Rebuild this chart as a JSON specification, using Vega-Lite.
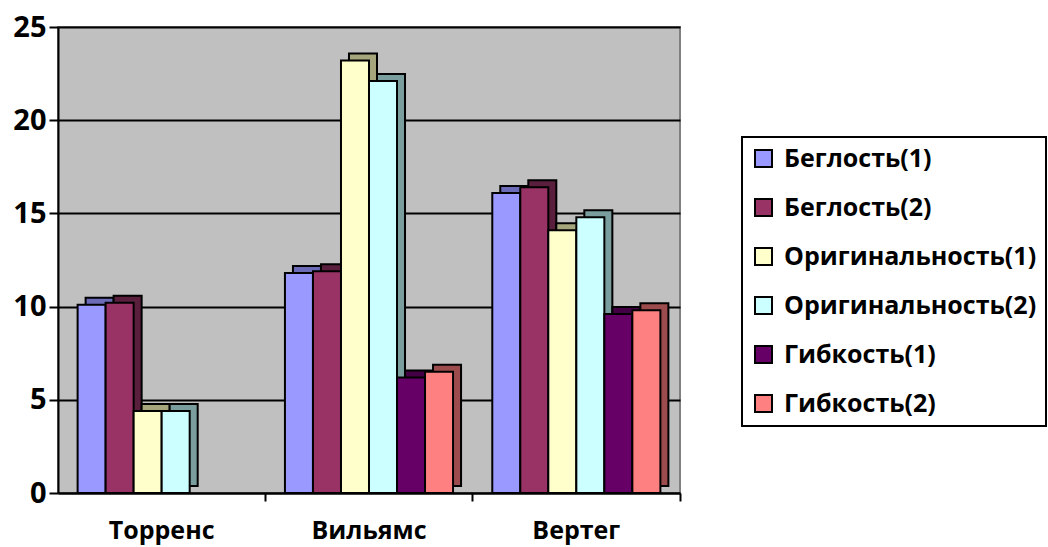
{
  "$schema": "https://vega.github.io/schema/vega-lite/v6.json",
  "width": 622,
  "height": 466,
  "autosize": "none",
  "padding": {"left": 58, "top": 27, "right": 368, "bottom": 54},
  "background": "white",
  "config": {
    "font": "Open Sans",
    "view": {"fill": "#C0C0C0", "stroke": "#808080", "strokeWidth": 2},
    "legend": {
      "orient": "none",
      "legendX": 684,
      "legendY": 110,
      "fillColor": "white",
      "strokeColor": "black",
      "strokeWidth": 2,
      "padding": 9,
      "symbolType": "square",
      "symbolSize": 289,
      "symbolStrokeColor": "black",
      "symbolStrokeWidth": 2,
      "symbolOpacity": 1,
      "labelFont": "Open Sans",
      "labelFontSize": 25,
      "labelFontWeight": "bold",
      "labelColor": "black",
      "labelOffset": 8,
      "labelLimit": 400,
      "rowPadding": 23
    }
  },
  "data": {
    "values": [
      {"group": "Торренс", "series": "Беглость(1)", "value": 10.1},
      {"group": "Торренс", "series": "Беглость(2)", "value": 10.2},
      {"group": "Торренс", "series": "Оригинальность(1)", "value": 4.4},
      {"group": "Торренс", "series": "Оригинальность(2)", "value": 4.4},
      {"group": "Вильямс", "series": "Беглость(1)", "value": 11.8},
      {"group": "Вильямс", "series": "Беглость(2)", "value": 11.9},
      {"group": "Вильямс", "series": "Оригинальность(1)", "value": 23.2},
      {"group": "Вильямс", "series": "Оригинальность(2)", "value": 22.1},
      {"group": "Вильямс", "series": "Гибкость(1)", "value": 6.2},
      {"group": "Вильямс", "series": "Гибкость(2)", "value": 6.5},
      {"group": "Вертег", "series": "Беглость(1)", "value": 16.1},
      {"group": "Вертег", "series": "Беглость(2)", "value": 16.4},
      {"group": "Вертег", "series": "Оригинальность(1)", "value": 14.1},
      {"group": "Вертег", "series": "Оригинальность(2)", "value": 14.8},
      {"group": "Вертег", "series": "Гибкость(1)", "value": 9.6},
      {"group": "Вертег", "series": "Гибкость(2)", "value": 9.8}
    ]
  },
  "encoding": {
    "x": {
      "field": "group",
      "type": "nominal",
      "sort": ["Торренс", "Вильямс", "Вертег"],
      "scale": {"paddingInner": 0, "paddingOuter": 0},
      "axis": {
        "title": null,
        "labelAngle": 0,
        "labelFont": "Open Sans",
        "labelFontSize": 25,
        "labelFontWeight": "bold",
        "labelColor": "black",
        "labelPadding": 17,
        "bandPosition": 1,
        "domainColor": "black",
        "domainWidth": 2,
        "tickColor": "black",
        "tickWidth": 2,
        "tickSize": 8,
        "grid": false
      }
    },
    "y": {
      "field": "value",
      "type": "quantitative",
      "scale": {"domain": [0, 25], "nice": false},
      "axis": {
        "title": null,
        "values": [0, 5, 10, 15, 20, 25],
        "labelFont": "Open Sans",
        "labelFontSize": 29,
        "labelFontWeight": "bold",
        "labelColor": "black",
        "labelPadding": 3,
        "domainColor": "black",
        "domainWidth": 2,
        "tickColor": "black",
        "tickWidth": 2,
        "tickSize": 9,
        "grid": true,
        "gridColor": "black",
        "gridWidth": 2,
        "gridOpacity": 1
      }
    }
  },
  "layer": [
    {
      "mark": {"type": "bar", "yOffset": -7, "stroke": "black", "strokeWidth": 2},
      "encoding": {
        "xOffset": {
          "field": "series",
          "type": "nominal",
          "sort": ["Беглость(1)", "Беглость(2)", "Оригинальность(1)", "Оригинальность(2)", "Гибкость(1)", "Гибкость(2)"],
          "scale": {"paddingInner": 0, "paddingOuter": 0.7, "range": [8, 215.33]}
        },
        "color": {
          "field": "series",
          "type": "nominal",
          "legend": null,
          "scale": {
            "domain": ["Беглость(1)", "Беглость(2)", "Оригинальность(1)", "Оригинальность(2)", "Гибкость(1)", "Гибкость(2)"],
            "range": ["#6b6bb8", "#5a1f3d", "#a6a67c", "#7a9e9e", "#440044", "#9c4c4c"]
          }
        }
      }
    },
    {
      "mark": {"type": "bar", "stroke": "black", "strokeWidth": 2, "opacity": 1},
      "encoding": {
        "xOffset": {
          "field": "series",
          "type": "nominal",
          "sort": ["Беглость(1)", "Беглость(2)", "Оригинальность(1)", "Оригинальность(2)", "Гибкость(1)", "Гибкость(2)"],
          "scale": {"paddingInner": 0, "paddingOuter": 0.7, "range": [0, 207.33]}
        },
        "color": {
          "field": "series",
          "type": "nominal",
          "title": null,
          "scale": {
            "domain": ["Беглость(1)", "Беглость(2)", "Оригинальность(1)", "Оригинальность(2)", "Гибкость(1)", "Гибкость(2)"],
            "range": ["#9999FF", "#993366", "#FFFFCC", "#CCFFFF", "#660066", "#FF8080"]
          }
        }
      }
    }
  ],
  "resolve": {"scale": {"xOffset": "independent", "color": "independent"}, "legend": {"color": "independent"}}
}
